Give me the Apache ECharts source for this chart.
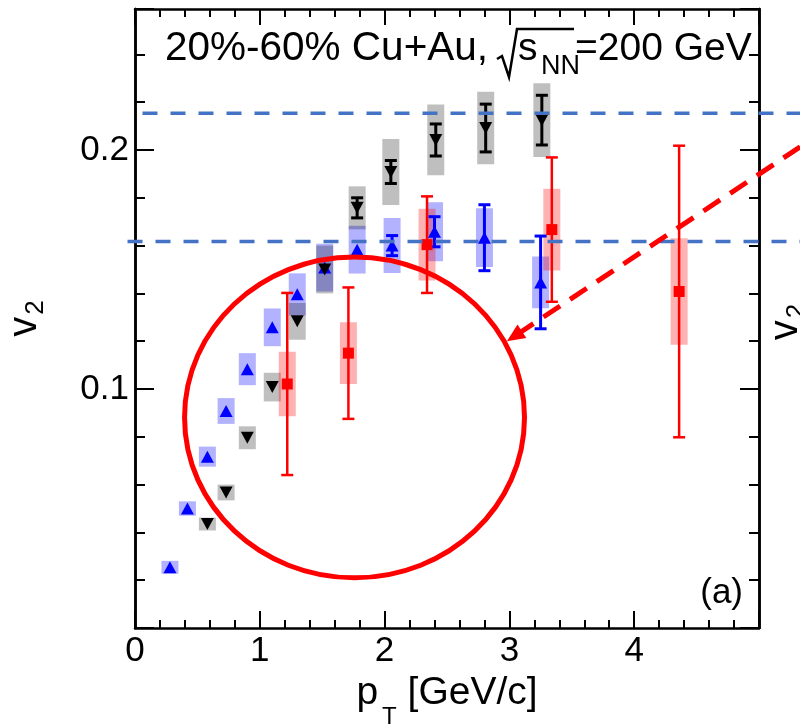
<!DOCTYPE html>
<html><head><meta charset="utf-8">
<script src="https://cdn.jsdelivr.net/npm/echarts@6/dist/echarts.min.js"></script>
<style>html,body{margin:0;padding:0;background:#fff}#c{width:800px;height:725px}</style>
</head><body><div id="c"></div>
<script>
// ---- data (pT in GeV/c, v2 values, statistical and systematic half-errors) ----
const bluePt   = [0.28, 0.42, 0.58, 0.73, 0.90, 1.10, 1.30, 1.52, 1.78, 2.06, 2.40, 2.80, 3.25];
const blueV2   = [0.0254, 0.0500, 0.0717, 0.0908, 0.1083, 0.1258, 0.1396, 0.1508, 0.1583, 0.1600, 0.1658, 0.1633, 0.1446];
const blueStat = [0, 0, 0, 0, 0, 0, 0, 0, 0, 0.0042, 0.0063, 0.0138, 0.0194];
const blueSys  = [0.0027, 0.0030, 0.0042, 0.0054, 0.0067, 0.0079, 0.0088, 0.0100, 0.0100, 0.0115, 0.0123, 0.0123, 0.0108];

const blackPt   = [0.58, 0.73, 0.90, 1.10, 1.30, 1.52, 1.78, 2.05, 2.41, 2.81, 3.26];
const blackV2   = [0.0435, 0.0567, 0.0796, 0.1008, 0.1283, 0.1500, 0.1758, 0.1908, 0.2042, 0.2092, 0.2125];
const blackStat = [0, 0, 0, 0, 0, 0, 0.0042, 0.0048, 0.0067, 0.0100, 0.0104];
const blackSys  = [0.0027, 0.0033, 0.0048, 0.0060, 0.0077, 0.0100, 0.0090, 0.0138, 0.0148, 0.0152, 0.0154];

const redPt   = [1.22, 1.71, 2.34, 3.34, 4.36];
const redV2   = [0.1021, 0.1150, 0.1604, 0.1667, 0.1408];
const redStat = [0.0381, 0.0275, 0.0202, 0.0302, 0.0610];
const redSys  = [0.0135, 0.0129, 0.0150, 0.0171, 0.0223];

const xTickLabels = ['0', '1', '2', '3', '4'];
const yTickLabels = ['0.1', '0.2'];

// annotation geometry in data units
const refLevels = [0.2154, 0.1617];
const refStartX = [0.06, -0.06];
const refEndX = 5.33;
const ringCenter = [1.759, 0.0881];
const ringRadii = [1.362, 0.0671];
const arrowFrom = [5.33, 0.2013];
const arrowTo = [2.98, 0.120];

const FONT = 'Liberation Sans';
const chart = echarts.init(document.getElementById('c'));

function zip4(a, b, c, d) { return a.map((v, i) => [v, b[i], c[i], d[i]]); }

function boxRender(color) {
  return function (params, api) {
    const x = api.value(0), y = api.value(1), s = api.value(3);
    const top = api.coord([x, y + s]);
    const bot = api.coord([x, y - s]);
    const w = 17;
    return { type: 'rect', shape: { x: top[0] - w / 2, y: top[1], width: w, height: bot[1] - top[1] },
             style: { fill: color } };
  };
}
function errRender(color, lw, cap) {
  return function (params, api) {
    const x = api.value(0), y = api.value(1), e = api.value(2);
    if (!e) return null;
    const hi = api.coord([x, y + e]), lo = api.coord([x, y - e]);
    const st = { stroke: color, lineWidth: lw };
    return { type: 'group', children: [
      { type: 'line', shape: { x1: hi[0], y1: hi[1], x2: lo[0], y2: lo[1] }, style: st },
      { type: 'line', shape: { x1: hi[0] - cap, y1: hi[1], x2: hi[0] + cap, y2: hi[1] }, style: st },
      { type: 'line', shape: { x1: lo[0] - cap, y1: lo[1], x2: lo[0] + cap, y2: lo[1] }, style: st }
    ]};
  };
}

const blueData = zip4(bluePt, blueV2, blueStat, blueSys);
const blackData = zip4(blackPt, blackV2, blackStat, blackSys);
const redData = zip4(redPt, redV2, redStat, redSys);

const axLine = { show: true, onZero: false, lineStyle: { color: '#000', width: 2.5 } };
function xAx(pos, showLabel, tickLen) {
  return {
    type: 'value', position: pos, min: 0, max: 5, interval: 1,
    axisLine: axLine,
    axisTick: { show: true, inside: true, length: tickLen, lineStyle: { color: '#000', width: 2 } },
    minorTick: { show: true, splitNumber: 5, length: 8, lineStyle: { color: '#000', width: 2 } },
    splitLine: { show: false }, minorSplitLine: { show: false },
    axisLabel: { show: showLabel, fontSize: 35, color: '#000', fontFamily: FONT, margin: 6,
      formatter: v => { const i = Math.round(v); return (Math.abs(v - i) < 1e-6 && i < xTickLabels.length) ? xTickLabels[i] : ''; } },
    name: showLabel ? '{p|p}{t|T}{g| [GeV/c]}' : '',
    nameLocation: 'middle', nameGap: 28,
    nameTextStyle: { color: '#000', fontFamily: FONT, fontSize: 39,
      rich: { p: { fontSize: 39, fontFamily: FONT, color: '#000' },
              t: { fontSize: 24, fontFamily: FONT, color: '#000', padding: [48, 0, 0, 4] },
              g: { fontSize: 39, fontFamily: FONT, color: '#000' } } }
  };
}
function yAx(pos, interval, tickLen, showLabel, withName) {
  return {
    type: 'value', position: pos, min: 0, max: 0.259, interval: interval,
    axisLine: axLine,
    axisTick: { show: true, inside: true, length: tickLen, lineStyle: { color: '#000', width: 2 } },
    splitLine: { show: false },
    axisLabel: { show: showLabel, fontSize: 35, color: '#000', fontFamily: FONT, margin: 6,
      formatter: v => { const k = Math.round(v * 10); return (Math.abs(v * 10 - k) < 1e-6 && k >= 1 && k <= yTickLabels.length) ? yTickLabels[k - 1] : ''; } },
    name: withName ? '{v|v}{s|2}' : '',
    nameLocation: 'middle', nameGap: 86, nameRotate: 90,
    nameTextStyle: { color: '#000', fontFamily: FONT, fontSize: 40,
      rich: { v: { fontSize: 40, fontFamily: FONT, color: '#000' },
              s: { fontSize: 26, fontFamily: FONT, color: '#000', padding: [22, 0, 0, 2] } } }
  };
}

const option = {
  animation: false,
  backgroundColor: '#fff',
  grid: { left: 135, right: 41, top: 9, bottom: 97, show: false, containLabel: false, outerBoundsMode: 'none' },
  xAxis: [xAx('bottom', true, 17), xAx('top', false, 16)],
  yAxis: [yAx('left', 0.1, 19, true, true), yAx('left', 0.02, 10, false, false),
          yAx('right', 0.1, 19, false, false), yAx('right', 0.02, 10, false, false)],
  series: [
    { type: 'custom', name: 'blueSys', data: blueData, renderItem: boxRender('rgba(0,0,255,0.3)'), z: 1, encode: { x: 0, y: 1 } },
    { type: 'custom', name: 'blackSys', data: blackData, renderItem: boxRender('rgba(0,0,0,0.25)'), z: 1, encode: { x: 0, y: 1 } },
    { type: 'custom', name: 'redSys', data: redData, renderItem: boxRender('rgba(255,0,0,0.3)'), z: 1, encode: { x: 0, y: 1 } },
    { type: 'custom', name: 'redStat', data: redData, renderItem: errRender('#ff0000', 2.5, 6), z: 3, encode: { x: 0, y: 1 } },
    { type: 'custom', name: 'blueStat', data: blueData, renderItem: errRender('#0000ff', 3, 6), z: 3, encode: { x: 0, y: 1 } },
    { type: 'custom', name: 'blackStat', data: blackData, renderItem: errRender('#000000', 3, 6), z: 3, encode: { x: 0, y: 1 } },
    { type: 'scatter', name: 'blue', data: blueData.map(d => [d[0], d[1]]), symbol: 'triangle', symbolSize: [13, 12],
      itemStyle: { color: '#0000ff', opacity: 1 }, z: 4 },
    { type: 'scatter', name: 'black', data: blackData.map(d => [d[0], d[1]]), symbol: 'triangle', symbolRotate: 180, symbolSize: [13, 12],
      itemStyle: { color: '#000000', opacity: 1 }, z: 4 },
    { type: 'scatter', name: 'red', data: redData.map(d => [d[0], d[1]]), symbol: 'rect', symbolSize: [11, 11],
      itemStyle: { color: '#ff0000', opacity: 1 }, z: 4 }
  ]
};
chart.setOption(option);

function px(p) { return chart.convertToPixel({ xAxisIndex: 0, yAxisIndex: 0 }, p); }

const g = [];
// dashed reference lines
refLevels.forEach((lv, i) => {
  const a = px([refStartX[i], lv]), b = px([refEndX, lv]);
  g.push({ type: 'line', z: 100, shape: { x1: a[0], y1: a[1], x2: b[0], y2: b[1] },
           style: { stroke: '#4472C4', lineWidth: 3.5, lineDash: [15, 13] } });
});
// ring
const c0 = px(ringCenter);
const rx = px([ringCenter[0] + ringRadii[0], ringCenter[1]])[0] - c0[0];
const ry = c0[1] - px([ringCenter[0], ringCenter[1] + ringRadii[1]])[1];
g.push({ type: 'ellipse', z: 100, shape: { cx: c0[0], cy: c0[1], rx: rx, ry: ry },
         style: { stroke: '#ff0000', fill: null, lineWidth: 5 } });
// arrow
const A = px(arrowFrom), B = px(arrowTo);
const dx = B[0] - A[0], dy = B[1] - A[1], L = Math.hypot(dx, dy);
const ux = dx / L, uy = dy / L, nx = -uy, ny = ux;
const headL = 18, headW = 8;
const base = [B[0] - ux * headL, B[1] - uy * headL];
g.push({ type: 'line', z: 100, shape: { x1: A[0], y1: A[1], x2: base[0] + ux * 4, y2: base[1] + uy * 4 },
         style: { stroke: '#ff0000', lineWidth: 5, lineDash: [20, 12] } });
g.push({ type: 'polygon', z: 100, shape: { points: [B, [base[0] + nx * headW, base[1] + ny * headW], [base[0] - nx * headW, base[1] - ny * headW]] },
         style: { fill: '#ff0000' } });
// panel text
g.push({ type: 'text', z: 100, style: { text: '20%-60% Cu+Au,', x: 165, y: 49, font: '40.5px "Liberation Sans"', fill: '#000', verticalAlign: 'middle', align: 'left' } });
g.push({ type: 'polyline', z: 100, shape: { points: [[497, 59], [502, 56], [509, 77], [517, 29], [574, 29]] },
         style: { stroke: '#000', lineWidth: 2.5, fill: null } });
g.push({ type: 'text', z: 100, style: { text: 's', x: 518, y: 49, font: '39px "Liberation Sans"', fill: '#000', verticalAlign: 'middle', align: 'left' } });
g.push({ type: 'text', z: 100, style: { text: 'NN', x: 541, y: 67, font: '27px "Liberation Sans"', fill: '#000', verticalAlign: 'middle', align: 'left' } });
g.push({ type: 'text', z: 100, style: { text: '=200 GeV', x: 575, y: 49, font: '39px "Liberation Sans"', fill: '#000', verticalAlign: 'middle', align: 'left' } });
g.push({ type: 'text', z: 100, style: { text: '(a)', x: 743, y: 593, font: '35px "Liberation Sans"', fill: '#000', verticalAlign: 'middle', align: 'right' } });
// partial neighbouring panel label
g.push({ type: 'text', z: 100, x: 786, y: 322, rotation: Math.PI / 2,
         style: { text: '{v|v}{s|2}', align: 'center', verticalAlign: 'middle',
                  rich: { v: { fontSize: 40, fontFamily: FONT, fill: '#000' }, s: { fontSize: 26, fontFamily: FONT, fill: '#000', padding: [22, 0, 0, 2] } } } });
chart.setOption({ graphic: { elements: g } });
</script>
</body></html>
